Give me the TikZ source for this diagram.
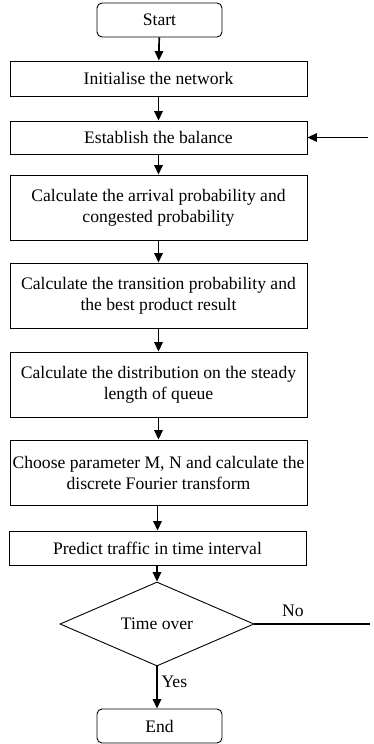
\documentclass[tikz,border=0pt]{standalone}
\usepackage{fontspec}
\setmainfont{Liberation Serif}
\usetikzlibrary{arrows.meta,shapes.geometric}

\begin{document}
\begin{tikzpicture}[x=1pt,y=-1pt,
    font=\fontsize{17.6}{21}\selectfont,
    box/.style={draw, line width=0.9pt, minimum width=297pt, align=center, inner sep=1pt},
    term/.style={draw, line width=0.9pt, rounded corners=5pt, minimum width=125pt, minimum height=34pt},
    arr/.style={line width=1.7pt, -{Triangle[length=9.5pt,width=8.5pt]}}]
      \useasboundingbox (0,0) rectangle (373,744);
      \node[term] (start) at (159.5, 20) {Start};
      \node[box, minimum height=35pt] (init) at (158.5, 78.5) {Initialise the network};
      \node[box, minimum height=33pt] (bal) at (158.5, 137.5) {Establish the balance};
      \node[box, minimum height=65pt] (arrv) at (158.5, 207.5) {Calculate the arrival probability and\\congested probability};
      \node[box, minimum height=65pt] (trans) at (158.5, 295.5) {Calculate the transition probability and\\the best product result};
      \node[box, minimum height=65pt] (dist) at (158.5, 384.5) {Calculate the distribution on the steady\\length of queue};
      \node[box, minimum height=65pt] (dft) at (158.5, 472.5) {Choose parameter M, N and calculate the\\discrete Fourier transform};
      \node[box, minimum height=34pt] (pred) at (157.5, 548) {Predict traffic in time interval};
      \node[draw, line width=0.9pt, diamond, inner sep=0pt, minimum width=194pt, minimum height=76pt] (over) at (157, 624) {Time over};
      \node[term] (stop) at (159.5, 726) {End};
      \coordinate (back) at (368, 137.5);
      \coordinate (noend) at (370, 624);
      \draw[arr] (start) -- (init);
      \draw[arr] (init) -- (bal);
      \draw[arr] (bal) -- (arrv);
      \draw[arr] (arrv) -- (trans);
      \draw[arr] (trans) -- (dist);
      \draw[arr] (dist) -- (dft);
      \draw[arr] (dft.south -| pred.north) -- (pred.north);
      \draw[arr] (pred.south -| over.north) -- (over.north);
      \draw[arr] (over.south) -- (over.south |- stop.north);
      \draw[line width=1.7pt] (over.east) -- (noend);
      \draw[arr] (back) -- (bal.east);
      \node[anchor=south] (lno) at (293, 620) {No};
      \node[anchor=west] (lyes) at (158, 682) {Yes};
    \end{tikzpicture}
\end{document}
